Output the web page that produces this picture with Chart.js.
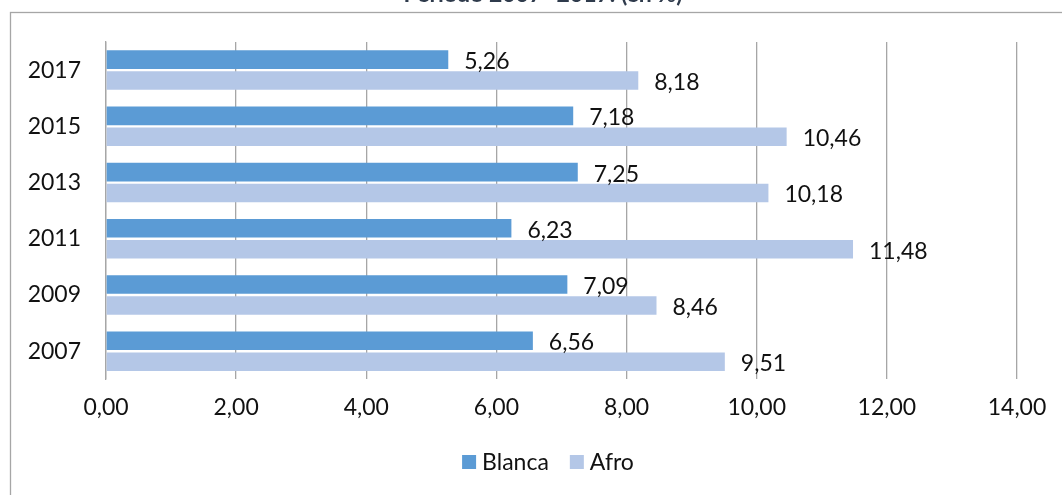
<!DOCTYPE html>
<html>
<head>
<meta charset="utf-8">
<script src="https://cdn.jsdelivr.net/npm/chart.js@4.4.1/dist/chart.umd.min.js"></script>
<style>
  html, body { margin: 0; padding: 0; background: #fff; }
  #wrap { width: 1062px; height: 495px; position: relative; }
</style>
</head>
<body>
<div id="wrap"><canvas id="chart"></canvas></div>
<script>
const years = ["2017", "2015", "2013", "2011", "2009", "2007"];
const blanca = [5.26, 7.18, 7.25, 6.23, 7.09, 6.56];
const afro = [8.18, 10.46, 10.18, 11.48, 8.46, 9.51];
const titulo = "Periodo 2007- 2017. (en %)";

const FONT = "Lato, 'Open Sans', sans-serif";
const fmt = (v) => v.toFixed(2).replace(".", ",");

// marco del área del gráfico y título (recortado arriba)
const framePlugin = {
  id: "frame",
  beforeDraw(chart) {
    const ctx = chart.ctx;
    ctx.save();
    ctx.fillStyle = "#fff";
    ctx.fillRect(0, 0, chart.width, chart.height);
    ctx.strokeStyle = "#a6a6a6";
    ctx.lineWidth = 1.3;
    ctx.strokeRect(10.5, 12.5, 2000, 2000);
    ctx.fillStyle = "#2f3b4c";
    ctx.font = "bold 23px " + FONT;
    ctx.textAlign = "center";
    ctx.textBaseline = "alphabetic";
    ctx.fillText(titulo, 543, 1.5);
    ctx.restore();
  },
};

// etiquetas de valor a la derecha de cada barra
const valueLabels = {
  id: "valueLabels",
  afterDatasetsDraw(chart) {
    const ctx = chart.ctx;
    ctx.save();
    ctx.font = "23px " + FONT;
    ctx.fillStyle = "#111";
    ctx.textAlign = "left";
    ctx.textBaseline = "middle";
    chart.data.datasets.forEach((ds, i) => {
      chart.getDatasetMeta(i).data.forEach((bar, j) => {
        ctx.fillText(fmt(ds.data[j]), bar.x + 16, bar.y + 2);
      });
    });
    ctx.restore();
  },
};

// leyenda inferior, centrada bajo el área de trazado
const bottomLegend = {
  id: "bottomLegend",
  afterDraw(chart) {
    const ctx = chart.ctx;
    const box = 14, gapText = 6, gapItem = 21, cx = 548, cy = 462;
    ctx.save();
    ctx.font = "23px " + FONT;
    ctx.textBaseline = "middle";
    ctx.textAlign = "left";
    const items = chart.data.datasets.map((ds) => ({
      label: ds.label,
      color: ds.backgroundColor,
      w: box + gapText + ctx.measureText(ds.label).width,
    }));
    const total = items.reduce((s, it) => s + it.w, 0) + gapItem * (items.length - 1);
    let x = cx - total / 2;
    items.forEach((it) => {
      ctx.fillStyle = it.color;
      ctx.fillRect(x, cy - box / 2, box, box);
      ctx.fillStyle = "#111";
      ctx.fillText(it.label, x + box + gapText, cy + 1);
      x += it.w + gapItem;
    });
    ctx.restore();
  },
};

new Chart(document.getElementById("chart"), {
  type: "bar",
  data: {
    labels: years,
    datasets: [
      {
        label: "Blanca",
        data: blanca,
        backgroundColor: "#5b9bd5",
        categoryPercentage: 0.745,
        barPercentage: 0.885,
      },
      {
        label: "Afro",
        data: afro,
        backgroundColor: "#b4c7e7",
        categoryPercentage: 0.745,
        barPercentage: 0.885,
      },
    ],
  },
  options: {
    indexAxis: "y",
    responsive: true,
    maintainAspectRatio: false,
    animation: false,
    layout: { padding: { left: 27, right: 45, top: 42, bottom: 60 } },
    scales: {
      x: {
        min: 0,
        max: 14,
        ticks: {
          stepSize: 2,
          padding: 14,
          color: "#111",
          font: { family: FONT, size: 23 },
          callback: (v) => fmt(v),
        },
        grid: { color: "#a6a6a6", lineWidth: 1.3, drawTicks: false },
        border: { display: false },
      },
      y: {
        afterFit: (s) => { s.width = 79; },
        ticks: {
          padding: 25,
          color: "#111",
          font: { family: FONT, size: 23 },
        },
        grid: { display: false, drawTicks: false },
        border: { display: true, color: "#a6a6a6", width: 1.3 },
      },
    },
    plugins: {
      legend: { display: false },
      tooltip: { enabled: false },
    },
  },
  plugins: [framePlugin, valueLabels, bottomLegend],
});
</script>
</body>
</html>
